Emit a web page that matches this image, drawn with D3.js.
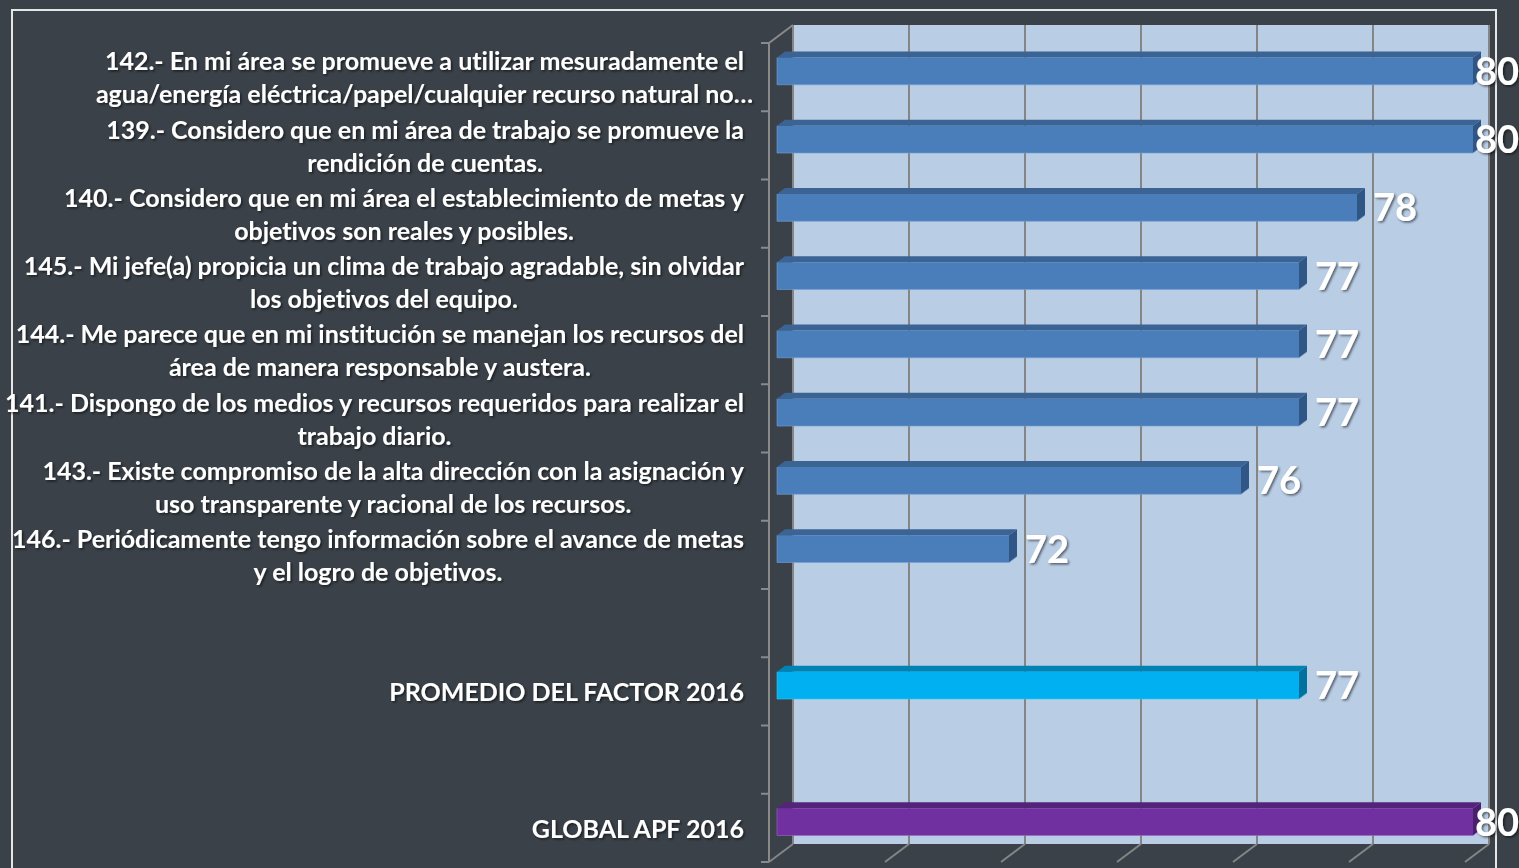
<!DOCTYPE html>
<html>
<head>
<meta charset="utf-8">
<script src="https://cdn.jsdelivr.net/npm/d3@7"></script>
<style>
  html, body { margin: 0; padding: 0; background: #3a4148; }
  svg { display: block; }
  .cat { font-family: Lato, "Open Sans", sans-serif; font-weight: bold; font-size: 25px; fill: #ffffff; font-variant-ligatures: none; }
  .val { font-family: Lato, "Open Sans", sans-serif; font-weight: bold; font-size: 38px; fill: #ffffff; }
</style>
</head>
<body>
<svg id="chart" width="1519" height="868"></svg>
<script>
// chart data
const categories = [
    "142.- En mi área se promueve a utilizar mesuradamente el\nagua/energía eléctrica/papel/cualquier recurso natural no…",
    "139.- Considero que en mi área de trabajo se promueve la\nrendición de cuentas.",
    "140.- Considero que en mi área el establecimiento de metas y\nobjetivos son reales y posibles.",
    "145.- Mi jefe(a) propicia un clima de trabajo agradable, sin olvidar\nlos objetivos del equipo.",
    "144.- Me parece que en mi institución se manejan los recursos del\nárea de manera responsable y austera.",
    "141.- Dispongo de los medios y recursos requeridos para realizar el\ntrabajo diario.",
    "143.- Existe compromiso de la alta dirección con la asignación y\nuso transparente y racional de los recursos.",
    "146.- Periódicamente tengo información sobre el avance de metas\ny el logro de objetivos.",
    "",
    "PROMEDIO DEL FACTOR 2016",
    "",
    "GLOBAL APF 2016"
];
const values = [80, 80, 78, 77, 77, 77, 76, 72, null, 77, null, 80];
const groups = ["item", "item", "item", "item", "item", "item", "item", "item", "", "promedio", "", "global"];
const xTicks = [68, 70, 72, 74, 76, 78, 80];

// colours per group: front, top, side, edge
const palette = {
    item:     { front: "#4a7ebb", top: "#3b6394", side: "#2f5684", edge: "#7aa2d4" },
    promedio: { front: "#00b0f0", top: "#0083b4", side: "#00729d", edge: "#3cc4f5" },
    global:   { front: "#7030a0", top: "#54247a", side: "#4a1f6b", edge: "#9a6cc0" }
};

const svg = d3.select("#chart");

// drop shadow for texts
const defs = svg.append("defs");
defs.append("filter")
    .attr("id", "shadow")
    .attr("x", "-20%").attr("y", "-20%").attr("width", "140%").attr("height", "140%")
    .append("feDropShadow")
    .attr("dx", 1.5).attr("dy", 1.5).attr("stdDeviation", 1)
    .attr("flood-color", "#000").attr("flood-opacity", 0.55);

// outer frame
svg.append("rect")
    .attr("x", 12).attr("y", 10)
    .attr("width", 1484).attr("height", 880)
    .attr("fill", "none")
    .attr("stroke", "#e6e6e6")
    .attr("stroke-width", 2);

// 3D geometry
const front = { left: 769, top: 43, bottom: 862 };
const depth = { dx: 24, dy: -18 };

const x = d3.scaleLinear()
    .domain([68, 80])
    .range([0, 696]);

const y = d3.scaleBand()
    .domain(d3.range(categories.length))
    .range([front.top, front.bottom])
    .padding(0);

const wallLeft = front.left + depth.dx;
const wallTop = front.top + depth.dy;
const wallBottom = front.bottom + depth.dy;

// back wall
svg.append("rect")
    .attr("x", wallLeft)
    .attr("y", wallTop)
    .attr("width", x(80))
    .attr("height", wallBottom - wallTop)
    .attr("fill", "#b9cde5");

// gridlines on the back wall and floor
const grid = svg.append("g").attr("stroke", "#858585").attr("stroke-width", 2);
grid.selectAll(".vline")
    .data(xTicks)
    .enter()
    .append("line")
    .attr("x1", d => wallLeft + x(d))
    .attr("x2", d => wallLeft + x(d))
    .attr("y1", wallTop)
    .attr("y2", wallBottom);

grid.selectAll(".floor")
    .data(xTicks)
    .enter()
    .append("line")
    .attr("x1", d => front.left + x(d))
    .attr("y1", front.bottom)
    .attr("x2", d => wallLeft + x(d))
    .attr("y2", wallBottom);

// left axis with its depth edges
const axis = svg.append("g").attr("stroke", "#8a8a8a").attr("stroke-width", 2);
axis.append("line")
    .attr("x1", front.left).attr("x2", front.left)
    .attr("y1", front.top).attr("y2", front.bottom);
axis.append("line")
    .attr("x1", front.left).attr("y1", front.top)
    .attr("x2", wallLeft).attr("y2", wallTop);

const tickYs = d3.range(categories.length + 1).map(i => front.top + i * y.step());
axis.selectAll(".tick")
    .data(tickYs)
    .enter()
    .append("line")
    .attr("x1", front.left - 8).attr("x2", front.left)
    .attr("y1", d => d).attr("y2", d => d);

// bars, drawn at 1/3 .. 2/3 of the depth
const rows = categories.map((c, i) => ({ label: c, value: values[i], group: groups[i], i }));
const barH = y.bandwidth() * 0.4;
const d1 = { dx: depth.dx / 3, dy: depth.dy / 3 };

const bars = svg.append("g");
rows.filter(d => d.value != null).forEach(d => {
    const col = palette[d.group];
    const x0 = front.left + d1.dx;
    const x1 = x0 + x(d.value);
    const y0 = y(d.i) + y.bandwidth() / 2 + d1.dy - barH / 2;
    const y1 = y0 + barH;
    const g = bars.append("g");

    g.append("polygon")
        .attr("points", [[x0, y0], [x1, y0], [x1 + d1.dx, y0 + d1.dy], [x0 + d1.dx, y0 + d1.dy]].join(" "))
        .attr("fill", col.top);
    g.append("polygon")
        .attr("points", [[x1, y0], [x1 + d1.dx, y0 + d1.dy], [x1 + d1.dx, y1 + d1.dy], [x1, y1]].join(" "))
        .attr("fill", col.side);
    g.append("rect")
        .attr("x", x0).attr("y", y0)
        .attr("width", x1 - x0).attr("height", barH)
        .attr("fill", col.front);
    g.append("polyline")
        .attr("points", [[x0, y0], [x0, y1], [x1, y1], [x1 + d1.dx, y1 + d1.dy]].join(" "))
        .attr("fill", "none")
        .attr("stroke", col.edge)
        .attr("stroke-opacity", 0.6)
        .attr("stroke-width", 1);

    // value label
    const lx = Math.min(x1 + 16, 1475);
    g.append("text")
        .attr("class", "val")
        .attr("x", lx)
        .attr("y", y0 + barH / 2)
        .attr("dy", "0.36em")
        .attr("filter", "url(#shadow)")
        .text(d.value);
});

// category labels: lines centred on each other, block right-aligned to the axis
const labelRight = 744;
const lineH = 33;
const labels = svg.append("g");
rows.filter(d => d.label !== "").forEach(d => {
    const lines = d.label.split("\n");
    const t = labels.append("text")
        .attr("class", "cat")
        .attr("filter", "url(#shadow)");
    const cy = y(d.i) + y.bandwidth() / 2 + 1;
    lines.forEach((ln, k) => {
        t.append("tspan")
            .attr("y", cy + (k - (lines.length - 1) / 2) * lineH)
            .attr("dy", "0.35em")
            .text(ln);
    });
    const first = t.select("tspan").node().getComputedTextLength();
    t.attr("text-anchor", "middle");
    t.selectAll("tspan").attr("x", labelRight - first / 2);
});
</script>
</body>
</html>
